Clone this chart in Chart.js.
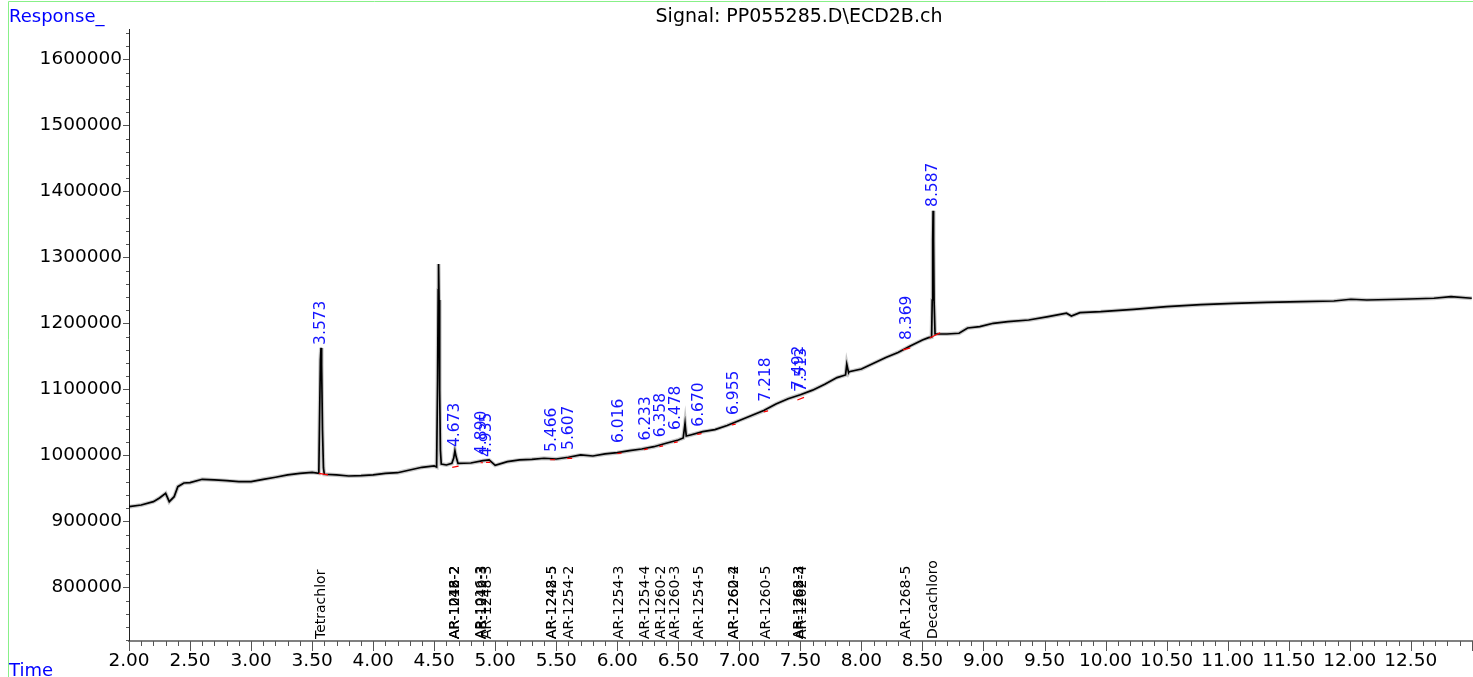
<!DOCTYPE html>
<html>
<head>
<meta charset="utf-8">
<script src="https://cdn.jsdelivr.net/npm/chart.js@4.4.0/dist/chart.umd.min.js"></script>
<style>
  html, body { margin: 0; padding: 0; background: #fff; }
  #wrap { width: 1473px; height: 677px; }
</style>
</head>
<body>
<div id="wrap"><canvas id="chart" width="1473" height="677"></canvas></div>
<script>
// Signal trace (time in min, response)
const times = [
  2.00, 2.10, 2.20, 2.25, 2.30, 2.33, 2.37, 2.40, 2.45, 2.50, 2.60, 2.70, 2.80, 2.90,
  3.00, 3.10, 3.20, 3.30, 3.40, 3.50, 3.555, 3.561, 3.568, 3.573, 3.578, 3.585, 3.593, 3.60,
  3.70, 3.80, 3.90, 4.00, 4.10, 4.20, 4.30, 4.40, 4.50, 4.520, 4.528, 4.533, 4.536, 4.540,
  4.545, 4.551, 4.558, 4.60, 4.645, 4.660, 4.670, 4.680, 4.695, 4.80, 4.90, 4.95, 5.00,
  5.10, 5.20, 5.30, 5.40, 5.50, 5.60, 5.70, 5.80, 5.90, 6.00, 6.10, 6.20, 6.30, 6.40,
  6.50, 6.54, 6.555, 6.565, 6.60, 6.70, 6.80, 6.90, 7.00, 7.10, 7.20, 7.30, 7.40, 7.50,
  7.60, 7.70, 7.80, 7.87, 7.88, 7.895, 7.90, 8.00, 8.10, 8.20, 8.30, 8.40, 8.50, 8.55,
  8.575, 8.580, 8.584, 8.587, 8.591, 8.595, 8.603, 8.70, 8.80, 8.87, 8.97, 9.08, 9.20,
  9.37, 9.53, 9.68, 9.72, 9.79, 9.96, 10.23, 10.50, 10.78, 11.05, 11.32, 11.60, 11.87,
  12.01, 12.14, 12.42, 12.69, 12.83, 13.00
];
const response = [
  922400, 925000, 930000, 935600, 942700, 930000, 937600, 952700, 958300, 958800, 963900, 962900, 961800, 960300,
  960300, 963900, 967000, 970500, 973000, 974500, 973000, 1053800, 1144700, 1163000, 1137100, 1038600, 981100, 971500,
  970500, 968900, 969400, 970500, 973000, 973900, 978000, 982100, 984100, 982600, 1114400, 1250800, 1290200, 1235600,
  1099200, 1008300, 987100, 985600, 988200, 996000, 1007300, 998000, 988200, 988600, 992100, 993200, 985000,
  990600, 993200, 994200, 995800, 994700, 997300, 1000800, 999200, 1002300, 1004200, 1007300, 1009800, 1013300, 1018500,
  1023500, 1026500, 1048800, 1029500, 1031100, 1036100, 1039200, 1045500, 1053000, 1060500, 1068000, 1078000, 1086000, 1092000,
  1099000, 1108000, 1118000, 1122000, 1138200, 1125500, 1127000, 1131000, 1139700, 1148500, 1156100, 1165900, 1175000, 1178500,
  1179500, 1235600, 1326500, 1370900, 1326500, 1235600, 1184100, 1184100, 1185200, 1193200, 1195200, 1200300, 1202700,
  1205300, 1210300, 1215500, 1211400, 1216400, 1217900, 1221500, 1225500, 1228500, 1230600, 1232100, 1233000, 1234100,
  1236700, 1235600, 1236700, 1238200, 1240600, 1238200
];

// integrated peaks: retention time and apex height
const peakTimes = [3.573, 4.673, 4.890, 4.935, 5.466, 5.607, 6.016, 6.233, 6.358, 6.478,
  6.670, 6.955, 7.218, 7.492, 7.513, 8.369, 8.587];
const peakHeights = [1163000, 1008300, 996200, 993200, 1000800, 1003800, 1014400, 1018000, 1023000, 1034100,
  1039100, 1056800, 1076800, 1094700, 1091700, 1170500, 1372000];

// integration baselines (red)
const baseStart = [3.555, 4.648, 4.880, 4.925, 5.450, 5.590, 6.000, 6.220, 6.345, 6.465, 6.655, 6.940, 7.200, 7.475, 8.340, 8.560];
const baseEnd = [3.630, 4.700, 4.900, 4.960, 5.490, 5.630, 6.035, 6.250, 6.375, 6.495, 6.690, 6.970, 7.235, 7.530, 8.400, 8.645];
const baseStartVal = [973000, 982000, 989000, 989500, 993500, 995500, 1003000, 1009000, 1013500, 1019500, 1032000, 1046500, 1066000, 1084000, 1160000, 1178000];
const baseEndVal = [970500, 984000, 989000, 989500, 993500, 995500, 1003500, 1010000, 1014500, 1020500, 1033000, 1047500, 1067500, 1088000, 1163000, 1186000];

// expected compound windows (black labels along the bottom)
const compoundTimes = [3.573, 4.673, 4.675, 4.677, 4.890, 4.895, 4.935, 5.466, 5.470, 5.607, 6.016,
  6.233, 6.358, 6.478, 6.670, 6.955, 6.957, 7.218, 7.492, 7.495, 7.513, 8.369, 8.587];
const compoundNames = ["Tetrachlor", "AR-1016-2", "AR-1242-2", "AR-1248-2", "AR-1016-3", "AR-1242-3", "AR-1248-3",
  "AR-1242-5", "AR-1248-5", "AR-1254-2", "AR-1254-3", "AR-1254-4", "AR-1260-2", "AR-1260-3", "AR-1254-5",
  "AR-1260-4", "AR-1262-2", "AR-1260-5", "AR-1268-3", "AR-1262-3", "AR-1262-4", "AR-1268-5", "Decachloro"];

// axes
const xTickValues = [2.0, 2.5, 3.0, 3.5, 4.0, 4.5, 5.0, 5.5, 6.0, 6.5, 7.0, 7.5, 8.0, 8.5, 9.0, 9.5,
  10.0, 10.5, 11.0, 11.5, 12.0, 12.5];
const yTickValues = [800000, 900000, 1000000, 1100000, 1200000, 1300000, 1400000, 1500000, 1600000];
const xRange = [2.0, 13.01];
const yRange = [718900, 1646200];

const FONT = "'DejaVu Sans', 'Liberation Sans', Arial, sans-serif";

const trace = times.map((t, i) => ({ x: t, y: response[i] }));
const baselines = [];
baseStart.forEach((t, i) => {
  baselines.push({ x: t, y: baseStartVal[i] });
  baselines.push({ x: baseEnd[i], y: baseEndVal[i] });
  baselines.push({ x: baseEnd[i] + 0.0005, y: null });
});

// texts, frame, tick marks and annotations
const overlay = {
  id: "overlay",
  afterDraw(chart) {
    const { ctx, chartArea } = chart;
    const x = chart.scales.x;
    const y = chart.scales.y;
    ctx.save();

    // green frame
    ctx.strokeStyle = "#88f088";
    ctx.lineWidth = 1;
    ctx.beginPath();
    ctx.moveTo(8.5, 677);
    ctx.lineTo(8.5, 1.5);
    ctx.lineTo(1473, 1.5);
    ctx.stroke();

    // header texts
    ctx.fillStyle = "#0000ff";
    ctx.font = "18px " + FONT;
    ctx.textAlign = "left";
    ctx.textBaseline = "alphabetic";
    ctx.fillText("Response_", 9, 22);
    ctx.fillText("Time", 9, 676);
    ctx.fillStyle = "#000";
    ctx.font = "19px " + FONT;
    ctx.textAlign = "center";
    ctx.fillText("Signal: PP055285.D\\ECD2B.ch", 799, 22);

    // x tick marks (0.1 min)
    ctx.strokeStyle = "#555";
    ctx.lineWidth = 1;
    ctx.beginPath();
    for (let i = 20; i <= 130; i++) {
      const px = Math.round(x.getPixelForValue(i / 10)) + 0.5;
      if (px > chartArea.right) break;
      const len = i % 5 === 0 ? 10 : 5;
      ctx.moveTo(px, chartArea.bottom);
      ctx.lineTo(px, chartArea.bottom + len);
    }
    // y tick marks (20000)
    for (let i = 36; i <= 82; i++) {
      const py = Math.round(y.getPixelForValue(i * 20000)) + 0.5;
      if (py < chartArea.top || py > chartArea.bottom) continue;
      const len = i % 5 === 0 ? 6 : 3;
      ctx.moveTo(chartArea.left, py);
      ctx.lineTo(chartArea.left - len, py);
    }
    ctx.stroke();

    // peak labels
    ctx.fillStyle = "#1414ff";
    ctx.font = "15.5px " + FONT;
    ctx.textAlign = "left";
    ctx.textBaseline = "middle";
    peakTimes.forEach((t, i) => {
      const px = x.getPixelForValue(t);
      const py = y.getPixelForValue(peakHeights[i]) - 3;
      ctx.save();
      ctx.translate(px, py);
      ctx.rotate(-Math.PI / 2);
      ctx.fillText(t.toFixed(3), 0, 0);
      ctx.restore();
    });

    // compound names
    ctx.fillStyle = "#000";
    ctx.font = "14px " + FONT;
    compoundTimes.forEach((t, i) => {
      const px = x.getPixelForValue(t);
      ctx.save();
      ctx.translate(px, chartArea.bottom - 2);
      ctx.rotate(-Math.PI / 2);
      ctx.fillText(compoundNames[i], 0, 0);
      ctx.restore();
    });

    ctx.restore();
  }
};

new Chart(document.getElementById("chart"), {
  type: "line",
  data: {
    datasets: [
      { data: baselines, borderColor: "#ff0000", borderWidth: 1.2, pointRadius: 0, spanGaps: false },
      { data: trace, borderColor: "#000", borderWidth: 1.7, pointRadius: 0, tension: 0 },
      { data: trace, borderColor: "rgba(0,0,0,0.22)", borderWidth: 4, pointRadius: 0, tension: 0 }
    ]
  },
  options: {
    responsive: false,
    animation: false,
    devicePixelRatio: 1,
    layout: { padding: { top: 29, left: 0, right: 0, bottom: 0 } },
    plugins: { legend: { display: false }, tooltip: { enabled: false } },
    scales: {
      x: {
        type: "linear",
        bounds: "data",
        min: xRange[0],
        max: xRange[1],
        afterFit: (s) => { s.height = 36; },
        afterBuildTicks: (s) => { s.ticks = xTickValues.map((v) => ({ value: v })); },
        grid: { display: false, drawTicks: false },
        border: { display: true, color: "#808080", width: 2 },
        ticks: {
          maxRotation: 0,
          autoSkip: false,
          padding: 9,
          color: "#000",
          font: { family: FONT, size: 18.5 },
          callback: (v) => Number(v).toFixed(2)
        }
      },
      y: {
        type: "linear",
        bounds: "data",
        min: yRange[0],
        max: yRange[1],
        afterFit: (s) => { s.width = 129; },
        afterBuildTicks: (s) => { s.ticks = yTickValues.map((v) => ({ value: v })); },
        grid: { display: false, drawTicks: false },
        border: { display: true, color: "#222", width: 1 },
        ticks: {
          autoSkip: false,
          padding: 7,
          color: "#000",
          font: { family: FONT, size: 18.5 },
          callback: (v) => String(v)
        }
      }
    }
  },
  plugins: [overlay]
});
</script>
</body>
</html>
